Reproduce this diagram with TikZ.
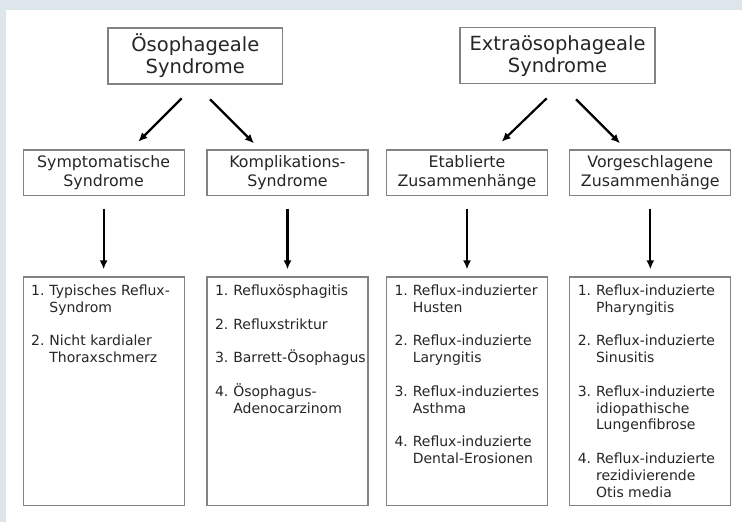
\documentclass[tikz,border=0pt]{standalone}
\usepackage{fontspec}
\setmainfont{DejaVu Sans}
\usetikzlibrary{arrows.meta,calc}
\definecolor{bandcol}{RGB}{220,230,235}
\definecolor{boxline}{RGB}{130,130,130}
\definecolor{txt}{RGB}{38,38,38}
\newcommand\lnum[2]{\makebox[18.3pt][l]{#1}#2}
\newcommand\lcont[1]{\hspace*{18.3pt}#1}
\begin{document}
\begin{tikzpicture}[x=1pt,y=-1pt,
  box/.style={draw=boxline,line width=1.2pt,fill=white,inner sep=0pt,align=center,text=txt},
  topbox/.style={box,minimum width=#1,minimum height=56pt,font=\fontsize{19.5}{22}\selectfont},
  midbox/.style={box,minimum width=161pt,minimum height=45.5pt,font=\fontsize{15.8}{19}\selectfont},
  listbox/.style={draw=boxline,line width=1.2pt,minimum width=161pt,minimum height=228.7pt,inner sep=0pt},
  listtext/.style={anchor=north west,inner sep=0pt,align=left,text=txt,font=\fontsize{14}{16.8}\selectfont},
  arr/.style={line width=2.2pt,-{Latex[length=9pt,width=8pt]}}]
\useasboundingbox (0,0) rectangle (742,522);
\fill[bandcol] (0,0) rectangle (742,522);
\fill[white] (6,9.5) rectangle (742,522);

\node[topbox=174.7pt] (t1) at (195.3,56) {Ösophageale\\Syndrome};
\node[topbox=195pt] (t2) at (557.5,55.8) {Extraösophageale\\Syndrome};

\node[midbox] (m1) at (103.6,172.7) {Symptomatische\\Syndrome};
\node[midbox] (m2) at (287.5,172.7) {Komplikations-\\Syndrome};
\node[midbox] (m3) at (467,172.7) {Etablierte\\Zusammenhänge};
\node[midbox] (m4) at (650.3,172.7) {Vorgeschlagene\\Zusammenhänge};

\node[listbox] (b1) at (103.6,391.3) {};
\node[listbox] (b2) at (287.5,391.3) {};
\node[listbox] (b3) at (467,391.3) {};
\node[listbox] (b4) at (650.3,391.3) {};

\node[listtext] (l1) at ($(b1.north west)+(8.4,8.4)$)
  {\lnum{1.}{Typisches Reflux-}\\\lcont{Syndrom}\\[16.8pt]\lnum{2.}{Nicht kardialer}\\\lcont{Thoraxschmerz}};
\node[listtext] (l2) at ($(b2.north west)+(8.4,8.4)$)
  {\lnum{1.}{Refluxösphagitis}\\[16.8pt]\lnum{2.}{Refluxstriktur}\\[16.8pt]\lnum{3.}{Barrett-Ösophagus}\\[16.8pt]\lnum{4.}{Ösophagus-}\\\lcont{Adenocarzinom}};
\node[listtext] (l3) at ($(b3.north west)+(8.4,8.4)$)
  {\lnum{1.}{Reflux-induzierter}\\\lcont{Husten}\\[16.8pt]\lnum{2.}{Reflux-induzierte}\\\lcont{Laryngitis}\\[16.8pt]\lnum{3.}{Reflux-induziertes}\\\lcont{Asthma}\\[16.8pt]\lnum{4.}{Reflux-induzierte}\\\lcont{Dental-Erosionen}};
\node[listtext] (l4) at ($(b4.north west)+(8.4,8.4)$)
  {\lnum{1.}{Reflux-induzierte}\\\lcont{Pharyngitis}\\[16.8pt]\lnum{2.}{Reflux-induzierte}\\\lcont{Sinusitis}\\[16.8pt]\lnum{3.}{Reflux-induzierte}\\\lcont{idiopathische}\\\lcont{Lungenfibrose}\\[16.8pt]\lnum{4.}{Reflux-induzierte}\\\lcont{rezidivierende}\\\lcont{Otis media}};

\coordinate (d1s) at (181.7,98.3);
\coordinate (d1e) at (138.3,141.7);
\coordinate (d2s) at (210,99.3);
\coordinate (d2e) at (254,143.3);
\coordinate (d3s) at (546.7,98.3);
\coordinate (d3e) at (501.7,141.7);
\coordinate (d4s) at (576,99.3);
\coordinate (d4e) at (620,143.3);
\draw[arr] (d1s) -- (d1e);
\draw[arr] (d2s) -- (d2e);
\draw[arr] (d3s) -- (d3e);
\draw[arr] (d4s) -- (d4e);

\draw[arr,shorten <=12.5pt,shorten >=7pt] (m1.south) -- (b1.north);
\draw[arr,shorten <=12.5pt,shorten >=7pt] (m2.south) -- (b2.north);
\draw[arr,shorten <=12.5pt,shorten >=7pt] (m3.south) -- (b3.north);
\draw[arr,shorten <=12.5pt,shorten >=7pt] (m4.south) -- (b4.north);
\end{tikzpicture}
\end{document}
